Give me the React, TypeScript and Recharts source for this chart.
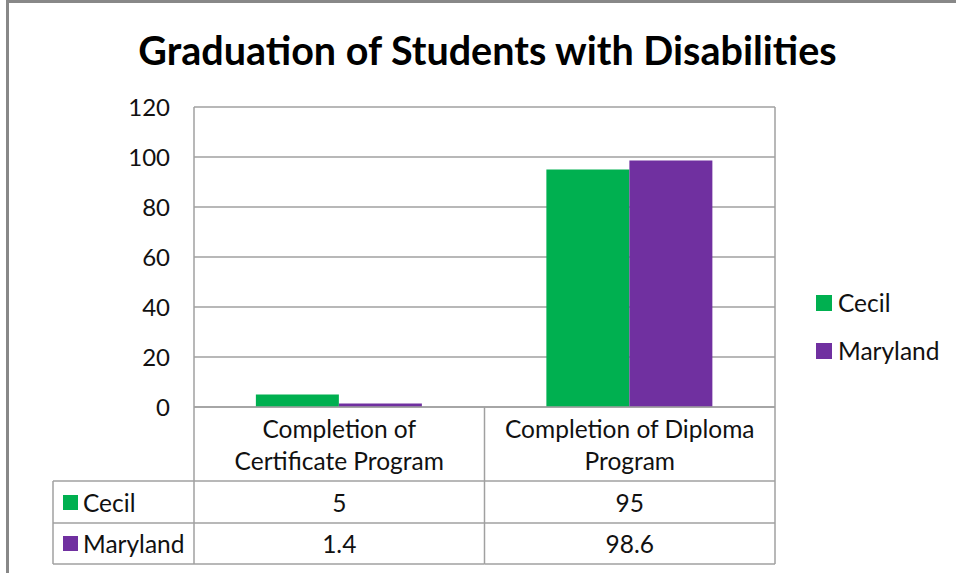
import React from 'react';
import { BarChart, Bar, XAxis, YAxis, CartesianGrid } from 'recharts';

const categories = ['Completion of Certificate Program', 'Completion of Diploma Program'];
const categoryLines = [
  ['Completion of', 'Certificate Program'],
  ['Completion of Diploma', 'Program'],
];
const seriesNames = ['Cecil', 'Maryland'];
const cecilValues = [5, 95];
const marylandValues = [1.4, 98.6];
const yTicks = [0, 20, 40, 60, 80, 100, 120];

const COLORS = ['#00B050', '#7030A0'];
const GRID = '#A0A0A0';
const FONT = 'Lato, "Open Sans", sans-serif';
const FS = 24.5;

const W = 956;
const H = 573;
const PLOT_LEFT = 194;
const PLOT_RIGHT = 775;
const PLOT_TOP = 107;
const PLOT_BOTTOM = 407;
const COL_W = (PLOT_RIGHT - PLOT_LEFT) / categories.length;
const TABLE_LEFT = 53;
const ROW1 = 481;
const ROW2 = 523;
const ROW3 = 564;

const data = categories.map((name, i) => ({
  name,
  cecil: cecilValues[i],
  maryland: marylandValues[i],
}));
const rowValues = [cecilValues, marylandValues];

function TableTick(props: any) {
  const { x, payload } = props;
  const i = payload.index;
  const left = x - COL_W / 2;
  const right = x + COL_W / 2;
  const last = i === categories.length - 1;
  const lineProps = { stroke: GRID, strokeWidth: 1.5 };
  return (
    <g>
      {/* column edges */}
      {i === 0 && <line x1={left} x2={left} y1={PLOT_TOP} y2={ROW3} {...lineProps} />}
      <line x1={right} x2={right} y1={last ? PLOT_TOP : PLOT_BOTTOM} y2={ROW3} {...lineProps} />
      {/* row lines */}
      {[ROW1, ROW2, ROW3].map((y) => (
        <line key={y} x1={i === 0 ? TABLE_LEFT : left} x2={right} y1={y} y2={y} {...lineProps} />
      ))}
      {i === 0 && <line x1={TABLE_LEFT} x2={TABLE_LEFT} y1={ROW1} y2={ROW3} {...lineProps} />}
      {/* header */}
      {categoryLines[i].map((t, k) => (
        <text key={k} x={x} y={428 + k * 32} textAnchor="middle" dominantBaseline="central"
          fontFamily={FONT} fontSize={FS} fill="#111">{t}</text>
      ))}
      {/* values */}
      {rowValues.map((vals, r) => (
        <text key={r} x={x} y={r === 0 ? 502 : 543} textAnchor="middle" dominantBaseline="central"
          fontFamily={FONT} fontSize={FS} fill="#111">{String(vals[i])}</text>
      ))}
      {/* row labels */}
      {i === 0 && seriesNames.map((s, r) => (
        <g key={s}>
          <rect x={63} y={(r === 0 ? 502 : 543) - 7} width={15} height={15} fill={COLORS[r]} />
          <text x={83} y={r === 0 ? 502 : 543} dominantBaseline="central"
            fontFamily={FONT} fontSize={FS} fill="#111">{s}</text>
        </g>
      ))}
    </g>
  );
}

export default function App() {
  return (
    <div style={{ position: 'absolute', left: 0, top: 0, width: W, height: H, background: '#fff', fontFamily: FONT }}>
      <div style={{ position: 'absolute', left: 6, top: 0, width: W - 6, height: H, borderLeft: '3px solid #888', borderTop: '3px solid #888', boxSizing: 'border-box' }} />
      <div style={{ position: 'absolute', left: 0, width: 975, top: 26, textAlign: 'center', fontSize: 39.5, fontWeight: 700, color: '#000' }}>
        Graduation of Students with Disabilities
      </div>
      <div style={{ position: 'absolute', left: 0, top: 0 }}>
        <BarChart
          width={W}
          height={H}
          data={data}
          margin={{ top: PLOT_TOP, right: W - PLOT_RIGHT, bottom: 0, left: 0 }}
          barCategoryGap="21.3%"
          barGap={0}
        >
          <CartesianGrid vertical={false} stroke={GRID} strokeWidth={1.5} />
          <XAxis dataKey="name" height={H - PLOT_BOTTOM} interval={0} tickLine={false}
            axisLine={{ stroke: GRID, strokeWidth: 1.5 }} tick={<TableTick />} />
          <YAxis width={PLOT_LEFT} domain={[0, 120]} ticks={yTicks} axisLine={false} tickLine={false}
            tickSize={0} tickMargin={24} tick={{ fontFamily: FONT, fontSize: 24, fill: '#111' }} />
          <Bar dataKey="cecil" name={seriesNames[0]} fill={COLORS[0]} isAnimationActive={false} />
          <Bar dataKey="maryland" name={seriesNames[1]} fill={COLORS[1]} isAnimationActive={false} />
        </BarChart>
      </div>
      {seriesNames.map((s, r) => (
        <div key={s} style={{ position: 'absolute', left: 816, top: r === 0 ? 288 : 336, display: 'flex', alignItems: 'center', fontSize: FS, color: '#111' }}>
          <span style={{ display: 'inline-block', width: 16, height: 16, background: COLORS[r], marginRight: 6 }} />
          {s}
        </div>
      ))}
    </div>
  );
}
